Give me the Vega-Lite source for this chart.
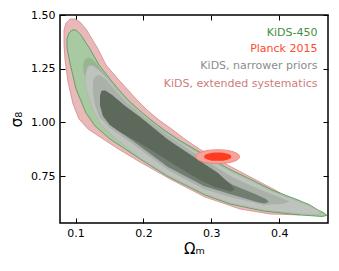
{
  "$schema": "https://vega.github.io/schema/vega-lite/v6.json",
  "width": 268,
  "height": 208,
  "autosize": "none",
  "padding": {"left": 60, "top": 15, "right": 11, "bottom": 48},
  "background": "white",
  "config": {
    "font": "DejaVu Sans",
    "view": {"stroke": "#000000", "strokeWidth": 1.5},
    "axis": {"domain": false, "grid": false, "tickColor": "#000000", "tickSize": 5, "tickWidth": 1, "offset": -5, "zindex": 1,
      "labelFont": "DejaVu Sans", "labelFontSize": 11, "labelColor": "#000000",
      "titleFont": "DejaVu Sans", "titleFontSize": 15, "titleFontWeight": "normal", "titleColor": "#000000"}
  },
  "datasets": {
    "contours": [
      {"contour":"P2","i":1,"omega_m":0.0829,"sigma_8":1.4302},
      {"contour":"P2","i":2,"omega_m":0.0858,"sigma_8":1.4628},
      {"contour":"P2","i":3,"omega_m":0.0917,"sigma_8":1.4814},
      {"contour":"P2","i":4,"omega_m":0.0991,"sigma_8":1.4814},
      {"contour":"P2","i":5,"omega_m":0.1065,"sigma_8":1.4674},
      {"contour":"P2","i":6,"omega_m":0.1153,"sigma_8":1.4349},
      {"contour":"P2","i":7,"omega_m":0.1242,"sigma_8":1.3883},
      {"contour":"P2","i":8,"omega_m":0.1330,"sigma_8":1.3418},
      {"contour":"P2","i":9,"omega_m":0.1448,"sigma_8":1.2674},
      {"contour":"P2","i":10,"omega_m":0.1625,"sigma_8":1.2022},
      {"contour":"P2","i":11,"omega_m":0.1772,"sigma_8":1.1510},
      {"contour":"P2","i":12,"omega_m":0.1905,"sigma_8":1.1045},
      {"contour":"P2","i":13,"omega_m":0.2052,"sigma_8":1.0580},
      {"contour":"P2","i":14,"omega_m":0.2229,"sigma_8":1.0114},
      {"contour":"P2","i":15,"omega_m":0.2435,"sigma_8":0.9649},
      {"contour":"P2","i":16,"omega_m":0.2627,"sigma_8":0.9184},
      {"contour":"P2","i":17,"omega_m":0.2848,"sigma_8":0.8718},
      {"contour":"P2","i":18,"omega_m":0.3099,"sigma_8":0.8253},
      {"contour":"P2","i":19,"omega_m":0.3379,"sigma_8":0.7788},
      {"contour":"P2","i":20,"omega_m":0.3659,"sigma_8":0.7323},
      {"contour":"P2","i":21,"omega_m":0.3939,"sigma_8":0.6857},
      {"contour":"P2","i":22,"omega_m":0.4189,"sigma_8":0.6392},
      {"contour":"P2","i":23,"omega_m":0.4351,"sigma_8":0.6020},
      {"contour":"P2","i":24,"omega_m":0.4381,"sigma_8":0.5834},
      {"contour":"P2","i":25,"omega_m":0.4307,"sigma_8":0.5694},
      {"contour":"P2","i":26,"omega_m":0.3865,"sigma_8":0.5741},
      {"contour":"P2","i":27,"omega_m":0.3423,"sigma_8":0.5973},
      {"contour":"P2","i":28,"omega_m":0.2907,"sigma_8":0.6531},
      {"contour":"P2","i":29,"omega_m":0.2391,"sigma_8":0.7369},
      {"contour":"P2","i":30,"omega_m":0.1949,"sigma_8":0.8160},
      {"contour":"P2","i":31,"omega_m":0.1654,"sigma_8":0.8718},
      {"contour":"P2","i":32,"omega_m":0.1360,"sigma_8":0.9323},
      {"contour":"P2","i":33,"omega_m":0.1183,"sigma_8":0.9695},
      {"contour":"P2","i":34,"omega_m":0.1050,"sigma_8":1.0161},
      {"contour":"P2","i":35,"omega_m":0.0962,"sigma_8":1.0859},
      {"contour":"P2","i":36,"omega_m":0.0888,"sigma_8":1.1883},
      {"contour":"P2","i":37,"omega_m":0.0844,"sigma_8":1.2906},
      {"contour":"P2","i":38,"omega_m":0.0829,"sigma_8":1.3604},
      {"contour":"P2","i":39,"omega_m":0.0829,"sigma_8":1.4302},

      {"contour":"G2","i":1,"omega_m":0.0873,"sigma_8":1.3883},
      {"contour":"G2","i":2,"omega_m":0.0903,"sigma_8":1.4162},
      {"contour":"G2","i":3,"omega_m":0.0947,"sigma_8":1.4302},
      {"contour":"G2","i":4,"omega_m":0.1006,"sigma_8":1.4302},
      {"contour":"G2","i":5,"omega_m":0.1079,"sigma_8":1.4069},
      {"contour":"G2","i":6,"omega_m":0.1212,"sigma_8":1.3418},
      {"contour":"G2","i":7,"omega_m":0.1345,"sigma_8":1.2674},
      {"contour":"G2","i":8,"omega_m":0.1507,"sigma_8":1.2022},
      {"contour":"G2","i":9,"omega_m":0.1640,"sigma_8":1.1510},
      {"contour":"G2","i":10,"omega_m":0.1772,"sigma_8":1.1045},
      {"contour":"G2","i":11,"omega_m":0.1934,"sigma_8":1.0580},
      {"contour":"G2","i":12,"omega_m":0.2111,"sigma_8":1.0114},
      {"contour":"G2","i":13,"omega_m":0.2303,"sigma_8":0.9649},
      {"contour":"G2","i":14,"omega_m":0.2524,"sigma_8":0.9184},
      {"contour":"G2","i":15,"omega_m":0.2774,"sigma_8":0.8718},
      {"contour":"G2","i":16,"omega_m":0.3025,"sigma_8":0.8253},
      {"contour":"G2","i":17,"omega_m":0.3290,"sigma_8":0.7788},
      {"contour":"G2","i":18,"omega_m":0.3600,"sigma_8":0.7323},
      {"contour":"G2","i":19,"omega_m":0.3894,"sigma_8":0.6857},
      {"contour":"G2","i":20,"omega_m":0.4278,"sigma_8":0.6392},
      {"contour":"G2","i":21,"omega_m":0.4454,"sigma_8":0.6159},
      {"contour":"G2","i":22,"omega_m":0.4572,"sigma_8":0.5927},
      {"contour":"G2","i":23,"omega_m":0.4661,"sigma_8":0.5787},
      {"contour":"G2","i":24,"omega_m":0.4705,"sigma_8":0.5671},
      {"contour":"G2","i":25,"omega_m":0.4631,"sigma_8":0.5624},
      {"contour":"G2","i":26,"omega_m":0.4307,"sigma_8":0.5694},
      {"contour":"G2","i":27,"omega_m":0.3762,"sigma_8":0.5880},
      {"contour":"G2","i":28,"omega_m":0.3275,"sigma_8":0.6206},
      {"contour":"G2","i":29,"omega_m":0.2907,"sigma_8":0.6625},
      {"contour":"G2","i":30,"omega_m":0.2347,"sigma_8":0.7509},
      {"contour":"G2","i":31,"omega_m":0.1949,"sigma_8":0.8300},
      {"contour":"G2","i":32,"omega_m":0.1507,"sigma_8":0.9230},
      {"contour":"G2","i":33,"omega_m":0.1286,"sigma_8":0.9835},
      {"contour":"G2","i":34,"omega_m":0.1153,"sigma_8":1.0440},
      {"contour":"G2","i":35,"omega_m":0.1006,"sigma_8":1.1557},
      {"contour":"G2","i":36,"omega_m":0.0917,"sigma_8":1.2767},
      {"contour":"G2","i":37,"omega_m":0.0873,"sigma_8":1.3464},
      {"contour":"G2","i":38,"omega_m":0.0873,"sigma_8":1.3883},

      {"contour":"G1","i":1,"omega_m":0.1109,"sigma_8":1.2627},
      {"contour":"G1","i":2,"omega_m":0.1131,"sigma_8":1.2906},
      {"contour":"G1","i":3,"omega_m":0.1183,"sigma_8":1.3022},
      {"contour":"G1","i":4,"omega_m":0.1242,"sigma_8":1.2953},
      {"contour":"G1","i":5,"omega_m":0.1315,"sigma_8":1.2720},
      {"contour":"G1","i":6,"omega_m":0.1404,"sigma_8":1.2348},
      {"contour":"G1","i":7,"omega_m":0.1507,"sigma_8":1.1929},
      {"contour":"G1","i":8,"omega_m":0.1625,"sigma_8":1.1464},
      {"contour":"G1","i":9,"omega_m":0.1654,"sigma_8":1.1045},
      {"contour":"G1","i":10,"omega_m":0.1433,"sigma_8":1.1510},
      {"contour":"G1","i":11,"omega_m":0.1286,"sigma_8":1.1743},
      {"contour":"G1","i":12,"omega_m":0.1183,"sigma_8":1.1976},
      {"contour":"G1","i":13,"omega_m":0.1124,"sigma_8":1.2255},
      {"contour":"G1","i":14,"omega_m":0.1109,"sigma_8":1.2627},

      {"contour":"N2","i":1,"omega_m":0.1138,"sigma_8":1.1883},
      {"contour":"N2","i":2,"omega_m":0.1146,"sigma_8":1.2208},
      {"contour":"N2","i":3,"omega_m":0.1168,"sigma_8":1.2534},
      {"contour":"N2","i":4,"omega_m":0.1212,"sigma_8":1.2674},
      {"contour":"N2","i":5,"omega_m":0.1271,"sigma_8":1.2627},
      {"contour":"N2","i":6,"omega_m":0.1360,"sigma_8":1.2394},
      {"contour":"N2","i":7,"omega_m":0.1477,"sigma_8":1.2022},
      {"contour":"N2","i":8,"omega_m":0.1610,"sigma_8":1.1510},
      {"contour":"N2","i":9,"omega_m":0.1743,"sigma_8":1.1045},
      {"contour":"N2","i":10,"omega_m":0.1890,"sigma_8":1.0580},
      {"contour":"N2","i":11,"omega_m":0.2067,"sigma_8":1.0114},
      {"contour":"N2","i":12,"omega_m":0.2273,"sigma_8":0.9649},
      {"contour":"N2","i":13,"omega_m":0.2494,"sigma_8":0.9161},
      {"contour":"N2","i":14,"omega_m":0.2760,"sigma_8":0.8672},
      {"contour":"N2","i":15,"omega_m":0.3010,"sigma_8":0.8207},
      {"contour":"N2","i":16,"omega_m":0.3275,"sigma_8":0.7741},
      {"contour":"N2","i":17,"omega_m":0.3585,"sigma_8":0.7276},
      {"contour":"N2","i":18,"omega_m":0.3880,"sigma_8":0.6811},
      {"contour":"N2","i":19,"omega_m":0.4263,"sigma_8":0.6345},
      {"contour":"N2","i":20,"omega_m":0.4454,"sigma_8":0.6113},
      {"contour":"N2","i":21,"omega_m":0.4572,"sigma_8":0.5904},
      {"contour":"N2","i":22,"omega_m":0.4617,"sigma_8":0.5811},
      {"contour":"N2","i":23,"omega_m":0.4572,"sigma_8":0.5717},
      {"contour":"N2","i":24,"omega_m":0.4307,"sigma_8":0.5741},
      {"contour":"N2","i":25,"omega_m":0.3762,"sigma_8":0.5927},
      {"contour":"N2","i":26,"omega_m":0.3275,"sigma_8":0.6252},
      {"contour":"N2","i":27,"omega_m":0.2907,"sigma_8":0.6671},
      {"contour":"N2","i":28,"omega_m":0.2347,"sigma_8":0.7555},
      {"contour":"N2","i":29,"omega_m":0.1949,"sigma_8":0.8346},
      {"contour":"N2","i":30,"omega_m":0.1581,"sigma_8":0.9277},
      {"contour":"N2","i":31,"omega_m":0.1374,"sigma_8":0.9882},
      {"contour":"N2","i":32,"omega_m":0.1271,"sigma_8":1.0487},
      {"contour":"N2","i":33,"omega_m":0.1168,"sigma_8":1.1371},
      {"contour":"N2","i":34,"omega_m":0.1138,"sigma_8":1.1883},

      {"contour":"M","i":1,"omega_m":0.1256,"sigma_8":1.1976},
      {"contour":"M","i":2,"omega_m":0.1301,"sigma_8":1.2162},
      {"contour":"M","i":3,"omega_m":0.1360,"sigma_8":1.2208},
      {"contour":"M","i":4,"omega_m":0.1448,"sigma_8":1.1999},
      {"contour":"M","i":5,"omega_m":0.1581,"sigma_8":1.1510},
      {"contour":"M","i":6,"omega_m":0.1743,"sigma_8":1.0952},
      {"contour":"M","i":7,"omega_m":0.1949,"sigma_8":1.0394},
      {"contour":"M","i":8,"omega_m":0.2391,"sigma_8":0.9323},
      {"contour":"M","i":9,"omega_m":0.2833,"sigma_8":0.8393},
      {"contour":"M","i":10,"omega_m":0.3320,"sigma_8":0.7439},
      {"contour":"M","i":11,"omega_m":0.3718,"sigma_8":0.6881},
      {"contour":"M","i":12,"omega_m":0.4012,"sigma_8":0.6508},
      {"contour":"M","i":13,"omega_m":0.4160,"sigma_8":0.6322},
      {"contour":"M","i":14,"omega_m":0.4042,"sigma_8":0.6206},
      {"contour":"M","i":15,"omega_m":0.3777,"sigma_8":0.6159},
      {"contour":"M","i":16,"omega_m":0.3275,"sigma_8":0.6531},
      {"contour":"M","i":17,"omega_m":0.2892,"sigma_8":0.6904},
      {"contour":"M","i":18,"omega_m":0.2362,"sigma_8":0.7788},
      {"contour":"M","i":19,"omega_m":0.1846,"sigma_8":0.8998},
      {"contour":"M","i":20,"omega_m":0.1507,"sigma_8":0.9742},
      {"contour":"M","i":21,"omega_m":0.1360,"sigma_8":1.0208},
      {"contour":"M","i":22,"omega_m":0.1286,"sigma_8":1.0812},
      {"contour":"M","i":23,"omega_m":0.1256,"sigma_8":1.1417},
      {"contour":"M","i":24,"omega_m":0.1256,"sigma_8":1.1976},

      {"contour":"B","i":1,"omega_m":0.1360,"sigma_8":1.1231},
      {"contour":"B","i":2,"omega_m":0.1382,"sigma_8":1.1464},
      {"contour":"B","i":3,"omega_m":0.1433,"sigma_8":1.1487},
      {"contour":"B","i":4,"omega_m":0.1536,"sigma_8":1.1278},
      {"contour":"B","i":5,"omega_m":0.1728,"sigma_8":1.0766},
      {"contour":"B","i":6,"omega_m":0.1949,"sigma_8":1.0254},
      {"contour":"B","i":7,"omega_m":0.2347,"sigma_8":0.9230},
      {"contour":"B","i":8,"omega_m":0.2833,"sigma_8":0.8021},
      {"contour":"B","i":9,"omega_m":0.3320,"sigma_8":0.7090},
      {"contour":"B","i":10,"omega_m":0.3644,"sigma_8":0.6671},
      {"contour":"B","i":11,"omega_m":0.3806,"sigma_8":0.6438},
      {"contour":"B","i":12,"omega_m":0.3850,"sigma_8":0.6299},
      {"contour":"B","i":13,"omega_m":0.3777,"sigma_8":0.6229},
      {"contour":"B","i":14,"omega_m":0.3673,"sigma_8":0.6299},
      {"contour":"B","i":15,"omega_m":0.3275,"sigma_8":0.6671},
      {"contour":"B","i":16,"omega_m":0.2892,"sigma_8":0.7043},
      {"contour":"B","i":17,"omega_m":0.2362,"sigma_8":0.7928},
      {"contour":"B","i":18,"omega_m":0.1846,"sigma_8":0.9137},
      {"contour":"B","i":19,"omega_m":0.1507,"sigma_8":0.9882},
      {"contour":"B","i":20,"omega_m":0.1404,"sigma_8":1.0301},
      {"contour":"B","i":21,"omega_m":0.1360,"sigma_8":1.0812},
      {"contour":"B","i":22,"omega_m":0.1360,"sigma_8":1.1231},

      {"contour":"A","i":1,"omega_m":0.1360,"sigma_8":1.1231},
      {"contour":"A","i":2,"omega_m":0.1382,"sigma_8":1.1464},
      {"contour":"A","i":3,"omega_m":0.1433,"sigma_8":1.1487},
      {"contour":"A","i":4,"omega_m":0.1536,"sigma_8":1.1278},
      {"contour":"A","i":5,"omega_m":0.1728,"sigma_8":1.0766},
      {"contour":"A","i":6,"omega_m":0.1949,"sigma_8":1.0254},
      {"contour":"A","i":7,"omega_m":0.2347,"sigma_8":0.9230},
      {"contour":"A","i":8,"omega_m":0.2833,"sigma_8":0.8207},
      {"contour":"A","i":9,"omega_m":0.3099,"sigma_8":0.7648},
      {"contour":"A","i":10,"omega_m":0.3275,"sigma_8":0.7137},
      {"contour":"A","i":11,"omega_m":0.3349,"sigma_8":0.6881},
      {"contour":"A","i":12,"omega_m":0.3290,"sigma_8":0.6788},
      {"contour":"A","i":13,"omega_m":0.3054,"sigma_8":0.6997},
      {"contour":"A","i":14,"omega_m":0.2833,"sigma_8":0.7323},
      {"contour":"A","i":15,"omega_m":0.2391,"sigma_8":0.8160},
      {"contour":"A","i":16,"omega_m":0.1949,"sigma_8":0.9044},
      {"contour":"A","i":17,"omega_m":0.1654,"sigma_8":0.9556},
      {"contour":"A","i":18,"omega_m":0.1507,"sigma_8":0.9882},
      {"contour":"A","i":19,"omega_m":0.1404,"sigma_8":1.0301},
      {"contour":"A","i":20,"omega_m":0.1360,"sigma_8":1.0812},
      {"contour":"A","i":21,"omega_m":0.1360,"sigma_8":1.1231}
    ],
    "planck": [{"omega_m": 0.3094, "sigma_8": 0.8407}]
  },
  "layer": [
    {
      "data": {"name": "contours"},
      "transform": [{"filter": "datum.contour === 'P2'"}],
      "mark": {"type": "line", "fill": "#e9b9b9", "stroke": "#d48a8a", "strokeWidth": 0.8},
      "encoding": {
        "x": {"field": "omega_m", "type": "quantitative", "scale": {"domain": [0.077, 0.472], "nice": false, "zero": false},
          "axis": {"orient": "bottom", "values": [0.1, 0.2, 0.3, 0.4], "format": ".1f", "labelPadding": 4, "title": "Ωₘ", "titlePadding": 3}},
        "y": {"field": "sigma_8", "type": "quantitative", "scale": {"domain": [0.532, 1.5], "nice": false, "zero": false},
          "axis": {"orient": "left", "values": [0.75, 1.0, 1.25, 1.5], "format": ".2f", "labelPadding": 5, "title": "σ₈", "titlePadding": 6}},
        "order": {"field": "i", "type": "quantitative"}
      }
    },
    {
      "data": {"name": "contours"},
      "transform": [{"filter": "datum.contour === 'G2'"}],
      "mark": {"type": "line", "fill": "#a9c9a2", "stroke": "#5a9c5a", "strokeWidth": 0.9},
      "encoding": {
        "x": {"field": "omega_m", "type": "quantitative", "scale": {"domain": [0.077, 0.472], "nice": false, "zero": false},
          "axis": {"orient": "top", "values": [0.1, 0.2, 0.3, 0.4], "labels": false, "title": null}},
        "y": {"field": "sigma_8", "type": "quantitative", "scale": {"domain": [0.532, 1.5], "nice": false, "zero": false},
          "axis": {"orient": "right", "values": [0.75, 1.0, 1.25, 1.5], "labels": false, "title": null}},
        "order": {"field": "i", "type": "quantitative"}
      }
    },
    {
      "data": {"name": "contours"},
      "transform": [{"filter": "datum.contour === 'G1'"}],
      "mark": {"type": "line", "fill": "#97b58f", "strokeWidth": 0},
      "encoding": {
        "x": {"field": "omega_m", "type": "quantitative", "scale": {"domain": [0.077, 0.472], "nice": false, "zero": false}, "axis": null},
        "y": {"field": "sigma_8", "type": "quantitative", "scale": {"domain": [0.532, 1.5], "nice": false, "zero": false}, "axis": null},
        "order": {"field": "i", "type": "quantitative"}
      }
    },
    {
      "data": {"name": "contours"},
      "transform": [{"filter": "datum.contour === 'N2'"}],
      "mark": {"type": "line", "fill": "#bec3bd", "stroke": "#a9aea8", "strokeWidth": 0.5},
      "encoding": {
        "x": {"field": "omega_m", "type": "quantitative", "scale": {"domain": [0.077, 0.472], "nice": false, "zero": false}, "axis": null},
        "y": {"field": "sigma_8", "type": "quantitative", "scale": {"domain": [0.532, 1.5], "nice": false, "zero": false}, "axis": null},
        "order": {"field": "i", "type": "quantitative"}
      }
    },
    {
      "data": {"name": "contours"},
      "transform": [{"filter": "datum.contour === 'M'"}],
      "mark": {"type": "line", "fill": "#aab1a9", "strokeWidth": 0},
      "encoding": {
        "x": {"field": "omega_m", "type": "quantitative", "scale": {"domain": [0.077, 0.472], "nice": false, "zero": false}, "axis": null},
        "y": {"field": "sigma_8", "type": "quantitative", "scale": {"domain": [0.532, 1.5], "nice": false, "zero": false}, "axis": null},
        "order": {"field": "i", "type": "quantitative"}
      }
    },
    {
      "data": {"name": "contours"},
      "transform": [{"filter": "datum.contour === 'B'"}],
      "mark": {"type": "line", "fill": "#727d71", "strokeWidth": 0},
      "encoding": {
        "x": {"field": "omega_m", "type": "quantitative", "scale": {"domain": [0.077, 0.472], "nice": false, "zero": false}, "axis": null},
        "y": {"field": "sigma_8", "type": "quantitative", "scale": {"domain": [0.532, 1.5], "nice": false, "zero": false}, "axis": null},
        "order": {"field": "i", "type": "quantitative"}
      }
    },
    {
      "data": {"name": "contours"},
      "transform": [{"filter": "datum.contour === 'A'"}],
      "mark": {"type": "line", "fill": "#5d695b", "strokeWidth": 0},
      "encoding": {
        "x": {"field": "omega_m", "type": "quantitative", "scale": {"domain": [0.077, 0.472], "nice": false, "zero": false}, "axis": null},
        "y": {"field": "sigma_8", "type": "quantitative", "scale": {"domain": [0.532, 1.5], "nice": false, "zero": false}, "axis": null},
        "order": {"field": "i", "type": "quantitative"}
      }
    },
    {
      "data": {"name": "planck"},
      "mark": {"type": "point", "shape": "M 1 0 C 1 0.1756 0.5523 0.318 0 0.318 C -0.5523 0.318 -1 0.1756 -1 0 C -1 -0.1756 -0.5523 -0.318 0 -0.318 C 0.5523 -0.318 1 -0.1756 1 0 Z",
        "size": 1936, "filled": true, "fill": "#f6a39b", "stroke": "#ec7d70", "strokeWidth": 0.8, "opacity": 1},
      "encoding": {
        "x": {"field": "omega_m", "type": "quantitative", "scale": {"domain": [0.077, 0.472], "nice": false, "zero": false}, "axis": null},
        "y": {"field": "sigma_8", "type": "quantitative", "scale": {"domain": [0.532, 1.5], "nice": false, "zero": false}, "axis": null}
      }
    },
    {
      "data": {"name": "planck"},
      "mark": {"type": "point", "shape": "M 1 0 C 1 0.1696 0.5523 0.307 0 0.307 C -0.5523 0.307 -1 0.1696 -1 0 C -1 -0.1696 -0.5523 -0.307 0 -0.307 C 0.5523 -0.307 1 -0.1696 1 0 Z",
        "size": 751, "filled": true, "fill": "#ff3c20", "strokeWidth": 0, "opacity": 1},
      "encoding": {
        "x": {"field": "omega_m", "type": "quantitative", "scale": {"domain": [0.077, 0.472], "nice": false, "zero": false}, "axis": null},
        "y": {"field": "sigma_8", "type": "quantitative", "scale": {"domain": [0.532, 1.5], "nice": false, "zero": false}, "axis": null}
      }
    },
    {
      "data": {"values": [{}]},
      "mark": {"type": "text", "text": "KiDS-450", "align": "right", "baseline": "alphabetic", "font": "DejaVu Sans", "fontSize": 11, "color": "#3f8f3f"},
      "encoding": {
        "x": {"datum": 0.4565, "type": "quantitative", "scale": {"domain": [0.077, 0.472], "nice": false, "zero": false}, "axis": null},
        "y": {"datum": 1.4022, "type": "quantitative", "scale": {"domain": [0.532, 1.5], "nice": false, "zero": false}, "axis": null}
      }
    },
    {
      "data": {"values": [{}]},
      "mark": {"type": "text", "text": "Planck 2015", "align": "right", "baseline": "alphabetic", "font": "DejaVu Sans", "fontSize": 11, "color": "#ff4a2a"},
      "encoding": {
        "x": {"datum": 0.4565, "type": "quantitative", "scale": {"domain": [0.077, 0.472], "nice": false, "zero": false}, "axis": null},
        "y": {"datum": 1.3264, "type": "quantitative", "scale": {"domain": [0.532, 1.5], "nice": false, "zero": false}, "axis": null}
      }
    },
    {
      "data": {"values": [{}]},
      "mark": {"type": "text", "text": "KiDS, narrower priors", "align": "right", "baseline": "alphabetic", "font": "DejaVu Sans", "fontSize": 11, "color": "#8c8c8c"},
      "encoding": {
        "x": {"datum": 0.4565, "type": "quantitative", "scale": {"domain": [0.077, 0.472], "nice": false, "zero": false}, "axis": null},
        "y": {"datum": 1.2472, "type": "quantitative", "scale": {"domain": [0.532, 1.5], "nice": false, "zero": false}, "axis": null}
      }
    },
    {
      "data": {"values": [{}]},
      "mark": {"type": "text", "text": "KiDS, extended systematics", "align": "right", "baseline": "alphabetic", "font": "DejaVu Sans", "fontSize": 11, "color": "#cd7c7c"},
      "encoding": {
        "x": {"datum": 0.4565, "type": "quantitative", "scale": {"domain": [0.077, 0.472], "nice": false, "zero": false}, "axis": null},
        "y": {"datum": 1.1662, "type": "quantitative", "scale": {"domain": [0.532, 1.5], "nice": false, "zero": false}, "axis": null}
      }
    }
  ],
  "resolve": {"axis": {"x": "independent", "y": "independent"}}
}
